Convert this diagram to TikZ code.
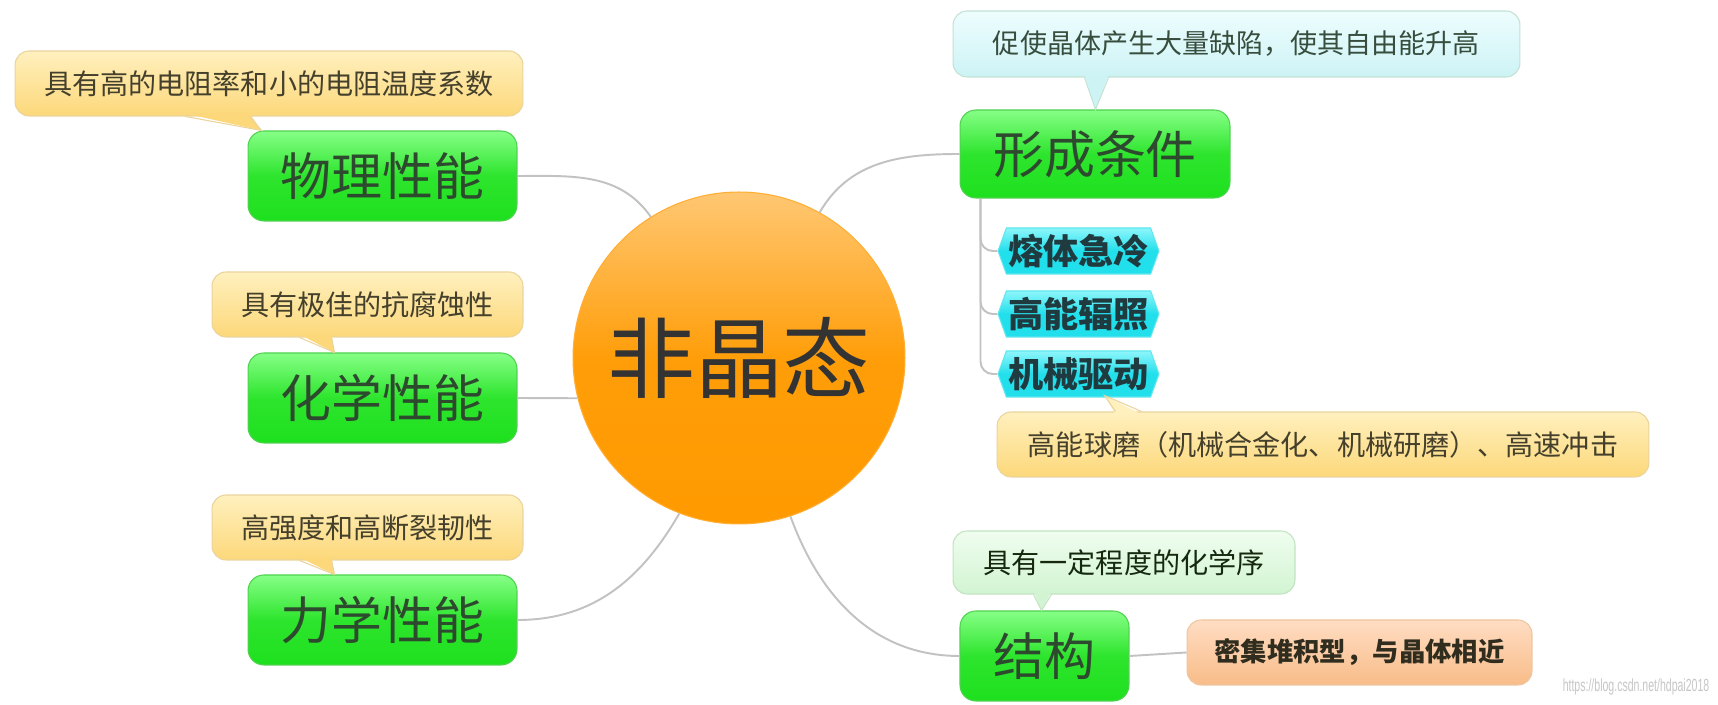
\documentclass[tikz,border=0pt]{standalone}
\usepackage{fontspec}
\newfontfamily\cjk{Noto Sans CJK SC}
\setsansfont{Liberation Sans}
\usepackage{xcolor}
\usetikzlibrary{shapes.symbols,calc,positioning}
\definecolor{linkgray}{HTML}{C2C2C2}
\definecolor{leafgreen}{HTML}{1EE01E}
\definecolor{leaftop}{HTML}{86FF86}
\definecolor{leafedge}{HTML}{4FD24F}
\definecolor{leaftext}{HTML}{2E4A2E}
\definecolor{coreorange}{HTML}{FF9A00}
\definecolor{coretop}{HTML}{FFC772}
\definecolor{noteyellow}{HTML}{FCD87A}
\definecolor{notetop}{HTML}{FFF0BE}
\definecolor{noteedge}{HTML}{EBD49C}
\definecolor{notetext}{HTML}{45402C}
\definecolor{notecyan}{HTML}{CDF3F5}
\definecolor{notecyantop}{HTML}{EEFDFE}
\definecolor{notecyanedge}{HTML}{C2E2D4}
\definecolor{notemint}{HTML}{D2F4D2}
\definecolor{notminttop}{HTML}{EFFDEF}
\definecolor{notemintedge}{HTML}{C2E3C2}
\definecolor{hexcyan}{HTML}{22DFEC}
\definecolor{hextop}{HTML}{8EF6FB}
\definecolor{hexedge}{HTML}{5FE6EE}
\definecolor{hextext}{HTML}{1F3B40}
\definecolor{peach}{HTML}{F8BC88}
\definecolor{peachtop}{HTML}{FFDDC3}
\definecolor{peachedge}{HTML}{EFC6A0}
\definecolor{inktext}{HTML}{333333}

\begin{document}
\begin{tikzpicture}[x=0.02cm,y=0.02cm,
  conn/.style={draw=linkgray,line width=1.1pt},
  leaf/.style={rounded corners=9pt,draw=leafedge,line width=0.6pt,top color=leaftop,bottom color=leafgreen,middle color=leafgreen!85!leaftop,
    minimum width=5.38cm,minimum height=1.8cm,text=leaftext,font=\cjk\fontsize{29}{32}\selectfont},
  note/.style={rounded corners=8pt,line width=0.6pt,minimum height=1.3cm,font=\cjk\fontsize{16}{18}\selectfont},
  notey/.style={note,draw=noteedge,top color=notetop,bottom color=noteyellow,text=notetext},
  notec/.style={note,draw=notecyanedge,top color=notecyantop,bottom color=notecyan,text=notetext!80!teal,font=\cjk\fontsize{15.4}{18}\selectfont},
  notem/.style={note,draw=notemintedge,top color=notminttop,bottom color=notemint,text=notetext!80!green!40!black},
  hexa/.style={shape=signal,signal to=east and west,signal pointer angle=140,inner sep=0pt,line width=0.6pt,
    minimum width=3.22cm,minimum height=0.92cm,draw=hexedge,top color=hextop,bottom color=hexcyan,middle color=hexcyan,
    text=hextext,font=\cjk\bfseries\fontsize{20}{24}\selectfont}]
  \useasboundingbox (0,0) rectangle (1718,705);
  \fill[white] (0,0) rectangle (1718,705);

  % centre
  \node[circle,minimum size=6.64cm,draw=coreorange!80!white,line width=0.6pt,top color=coretop,bottom color=coreorange,middle color=coreorange!92!coretop,
    text=inktext,font=\cjk\fontsize{50}{56}\selectfont] (core) at (739,347) {非晶态};

  % left branches
  \node[leaf] (phys) at (382.5,529) {物理性能};
  \node[leaf] (chem) at (382.5,307) {化学性能};
  \node[leaf] (mech) at (382.5,85) {力学性能};
  \node[notey,minimum width=10.16cm] (physnote) at (269,621.5) {具有高的电阻率和小的电阻温度系数};
  \node[notey,minimum width=6.22cm] (chemnote) at (367.5,400.5) {具有极佳的抗腐蚀性};
  \node[notey,minimum width=6.22cm] (mechnote) at (367.5,177.5) {高强度和高断裂韧性};

  % right branches
  \node[leaf,minimum width=5.4cm,minimum height=1.76cm] (form) at (1095,551) {形成条件};
  \node[notec,minimum width=11.34cm,minimum height=1.32cm] (formnote) at (1236.5,661) {促使晶体产生大量缺陷，使其自由能升高};
  \node[hexa] (quench) at (1078.5,454) {熔体急冷};
  \node[hexa] (irrad) at (1078.5,391) {高能辐照};
  \node[hexa] (milling) at (1078.5,331) {机械驱动};
  \node[notey,minimum width=13.04cm] (ballnote) at (1323,260.5) {高能球磨（机械合金化、机械研磨）、高速冲击};
  \node[leaf,minimum width=3.38cm] (struct) at (1044.5,49) {结构};
  \node[notem,minimum width=6.84cm,minimum height=1.26cm] (ordernote) at (1124,142.5) {具有一定程度的化学序};
  \node[rounded corners=8pt,draw=peachedge,line width=0.6pt,top color=peachtop,bottom color=peach,minimum width=6.9cm,minimum height=1.3cm,
    text=notetext!70!black,font=\cjk\bfseries\fontsize{15}{18}\selectfont] (dense) at (1359.5,52.5) {密集堆积型，与晶体相近};

  % callout tails
  \fill[noteyellow] ($(physnote.south west)+(171,3)$) -- ($(phys.north west)+(14,0)$) -- ($(physnote.south west)+(235,3)$) -- cycle;
  \draw[noteedge,line width=0.6pt] ($(physnote.south west)+(171,0)$) -- ($(phys.north west)+(14,0)$) -- ($(physnote.south west)+(235,0)$);
  \fill[noteyellow] ($(chemnote.south west)+(88,3)$) -- ($(chem.north west)+(87,0)$) -- ($(chemnote.south west)+(120,3)$) -- cycle;
  \draw[noteedge,line width=0.6pt] ($(chemnote.south west)+(88,0)$) -- ($(chem.north west)+(87,0)$) -- ($(chemnote.south west)+(120,0)$);
  \fill[noteyellow] ($(mechnote.south west)+(88,3)$) -- ($(mech.north west)+(87,0)$) -- ($(mechnote.south west)+(120,3)$) -- cycle;
  \draw[noteedge,line width=0.6pt] ($(mechnote.south west)+(88,0)$) -- ($(mech.north west)+(87,0)$) -- ($(mechnote.south west)+(120,0)$);
  \fill[notecyan] ($(formnote.south west)+(132,3)$) -- ($(form.north west)+(136,0)$) -- ($(formnote.south west)+(156,3)$) -- cycle;
  \draw[notecyanedge,line width=0.6pt] ($(formnote.south west)+(132,0)$) -- ($(form.north west)+(136,0)$) -- ($(formnote.south west)+(156,0)$);
  \fill[notetop] ($(ballnote.north west)+(119,-3)$) -- ($(milling.south)+(26,2)$) -- ($(ballnote.north west)+(145,-3)$) -- cycle;
  \draw[noteedge,line width=0.6pt] ($(ballnote.north west)+(119,0)$) -- ($(milling.south)+(26,2)$) -- ($(ballnote.north west)+(145,0)$);
  \fill[notemint] ($(ordernote.south west)+(81,3)$) -- ($(struct.north west)+(82,0)$) -- ($(ordernote.south west)+(99,3)$) -- cycle;
  \draw[notemintedge,line width=0.6pt] ($(ordernote.south west)+(81,0)$) -- ($(struct.north west)+(82,0)$) -- ($(ordernote.south west)+(99,0)$);

  % links
  \draw[conn] (phys.east) to[out=0,in=125] (core.122);
  \draw[conn] (chem.east) -- (core.194);
  \draw[conn] (mech.east) to[out=0,in=240] (core.249);
  \draw[conn] (core.61) to[out=60,in=180] (form.west);
  \draw[conn] (core.288) to[out=-70,in=180] (struct.west);
  \draw[conn] (struct.east) -- (dense.west);
  \coordinate (fdrop) at ($(form.south west)+(21,0)$);
  \draw[conn,rounded corners=7pt] (fdrop) |- (quench.west);
  \draw[conn,rounded corners=7pt] (fdrop) |- (irrad.west);
  \draw[conn,rounded corners=7pt] (fdrop) |- (milling.west);

  \node[text=gray!45,font=\sffamily\fontsize{10}{12}\selectfont] (mark) at (1636,18) {\scalebox{0.6}[1]{https://blog.csdn.net/hdpai2018}};
\end{tikzpicture}
\end{document}
